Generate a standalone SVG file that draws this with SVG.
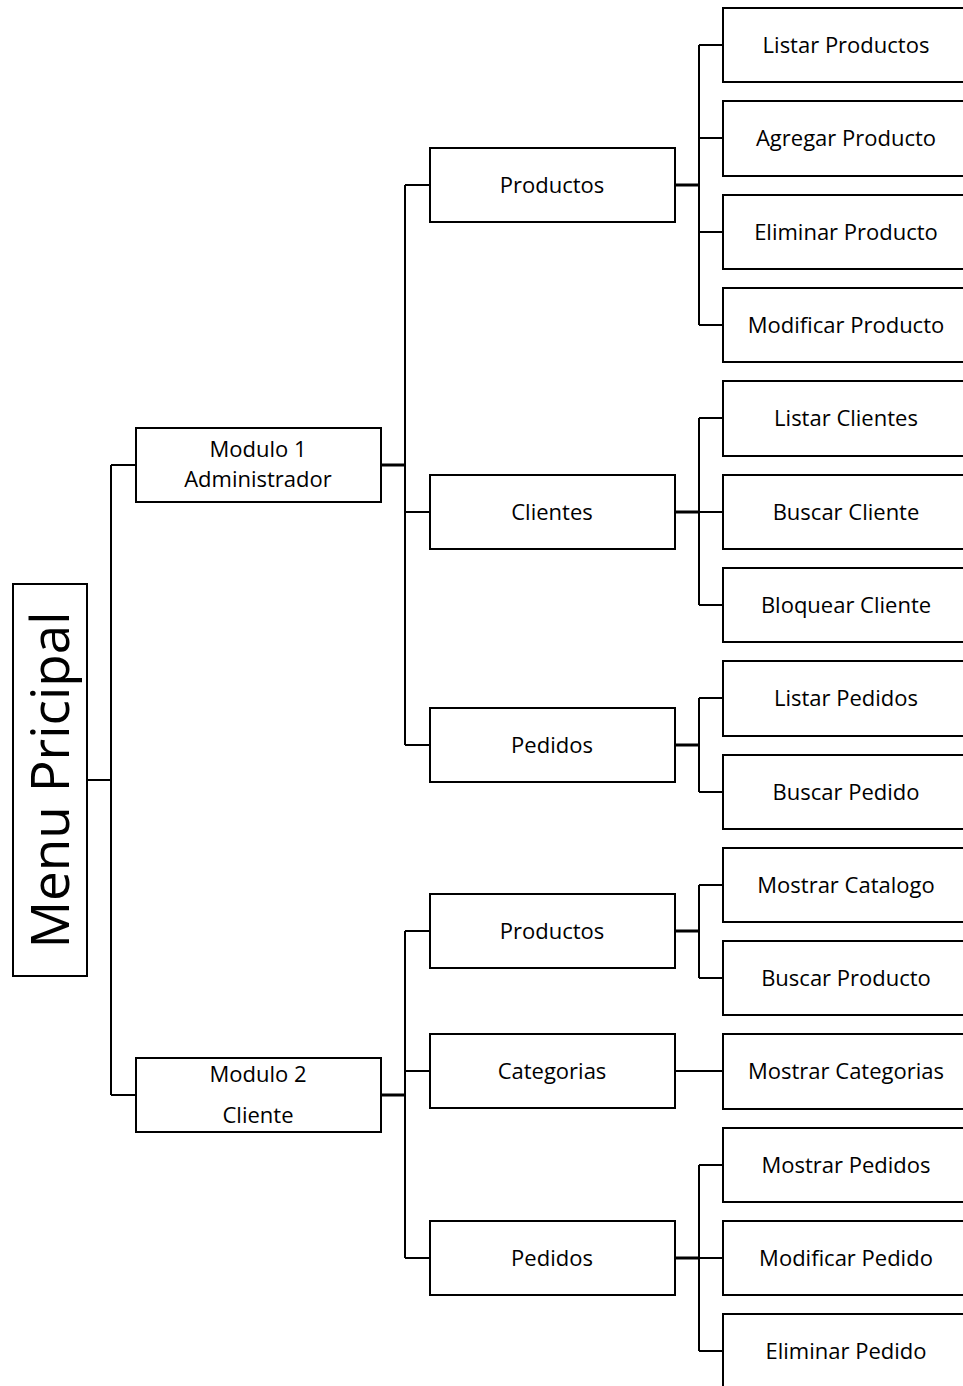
<svg xmlns="http://www.w3.org/2000/svg" width="963" height="1386" viewBox="0 0 963 1386">
<style>
rect{fill:#fff;stroke:#000;stroke-width:2}
text{font-family:"Open Sans","Liberation Sans",sans-serif;font-size:22px;fill:#000;text-anchor:middle}
.c{fill:none;stroke:#000;stroke-width:2}
.t{fill:none;stroke:#000;stroke-width:3}
</style>
<rect width="963" height="1386" style="stroke:none"/>
<g id="connectors">
<path class="c" d="M87 780H111M111 465V1095M111 465H136M111 1095H136"/>
<path class="t" d="M381 465H405M381 1095H405"/>
<path class="c" d="M405 185V745M405 185H430M405 512H430M405 745H430"/>
<path class="c" d="M405 931V1258M405 931H430M405 1071H430M405 1258H430"/>
<path class="t" d="M675 185H699M675 512H699M675 745H699M675 931H699M675 1258H699"/>
<path class="c" d="M699 45V325M699 45H723M699 138H723M699 232H723M699 325H723"/>
<path class="c" d="M699 418V605M699 418H723M699 512H723M699 605H723"/>
<path class="c" d="M699 698V792M699 698H723M699 792H723"/>
<path class="c" d="M699 885V978M699 885H723M699 978H723"/>
<path class="c" d="M675 1071H723"/>
<path class="c" d="M699 1165V1351M699 1165H723M699 1258H723M699 1351H723"/>
</g>
<g id="menu"><rect x="13" y="584" width="74" height="392"/><text transform="translate(69 780) rotate(-90)" style="font-size:53px">Menu Pricipal</text></g>
<g id="mod1"><rect x="136" y="428" width="245" height="74"/><text x="258" y="457">Modulo 1</text><text x="258" y="487">Administrador</text></g>
<g id="mod2"><rect x="136" y="1058" width="245" height="74"/><text x="258" y="1082">Modulo 2</text><text x="258" y="1123">Cliente</text></g>
<g id="a-productos"><rect x="430" y="148" width="245" height="74"/><text x="552" y="193">Productos</text></g>
<g id="a-clientes"><rect x="430" y="475" width="245" height="74"/><text x="552" y="520">Clientes</text></g>
<g id="a-pedidos"><rect x="430" y="708" width="245" height="74"/><text x="552" y="753">Pedidos</text></g>
<g id="c-productos"><rect x="430" y="894" width="245" height="74"/><text x="552" y="939">Productos</text></g>
<g id="c-categorias"><rect x="430" y="1034" width="245" height="74"/><text x="552" y="1079">Categorias</text></g>
<g id="c-pedidos"><rect x="430" y="1221" width="245" height="74"/><text x="552" y="1266">Pedidos</text></g>
<g id="listar-productos"><rect x="723" y="8" width="260" height="74"/><text x="846" y="53">Listar Productos</text></g>
<g id="agregar-producto"><rect x="723" y="101" width="260" height="75"/><text x="846" y="146">Agregar Producto</text></g>
<g id="eliminar-producto"><rect x="723" y="195" width="260" height="74"/><text x="846" y="240">Eliminar Producto</text></g>
<g id="modificar-producto"><rect x="723" y="288" width="260" height="74"/><text x="846" y="333">Modificar Producto</text></g>
<g id="listar-clientes"><rect x="723" y="381" width="260" height="75"/><text x="846" y="426">Listar Clientes</text></g>
<g id="buscar-cliente"><rect x="723" y="475" width="260" height="74"/><text x="846" y="520">Buscar Cliente</text></g>
<g id="bloquear-cliente"><rect x="723" y="568" width="260" height="74"/><text x="846" y="613">Bloquear Cliente</text></g>
<g id="listar-pedidos"><rect x="723" y="661" width="260" height="75"/><text x="846" y="706">Listar Pedidos</text></g>
<g id="buscar-pedido"><rect x="723" y="755" width="260" height="74"/><text x="846" y="800">Buscar Pedido</text></g>
<g id="mostrar-catalogo"><rect x="723" y="848" width="260" height="74"/><text x="846" y="893">Mostrar Catalogo</text></g>
<g id="buscar-producto"><rect x="723" y="941" width="260" height="74"/><text x="846" y="986">Buscar Producto</text></g>
<g id="mostrar-categorias"><rect x="723" y="1034" width="260" height="75"/><text x="846" y="1079">Mostrar Categorias</text></g>
<g id="mostrar-pedidos"><rect x="723" y="1128" width="260" height="74"/><text x="846" y="1173">Mostrar Pedidos</text></g>
<g id="modificar-pedido"><rect x="723" y="1221" width="260" height="74"/><text x="846" y="1266">Modificar Pedido</text></g>
<g id="eliminar-pedido"><rect x="723" y="1314" width="260" height="80"/><text x="846" y="1359">Eliminar Pedido</text></g>
</svg>
